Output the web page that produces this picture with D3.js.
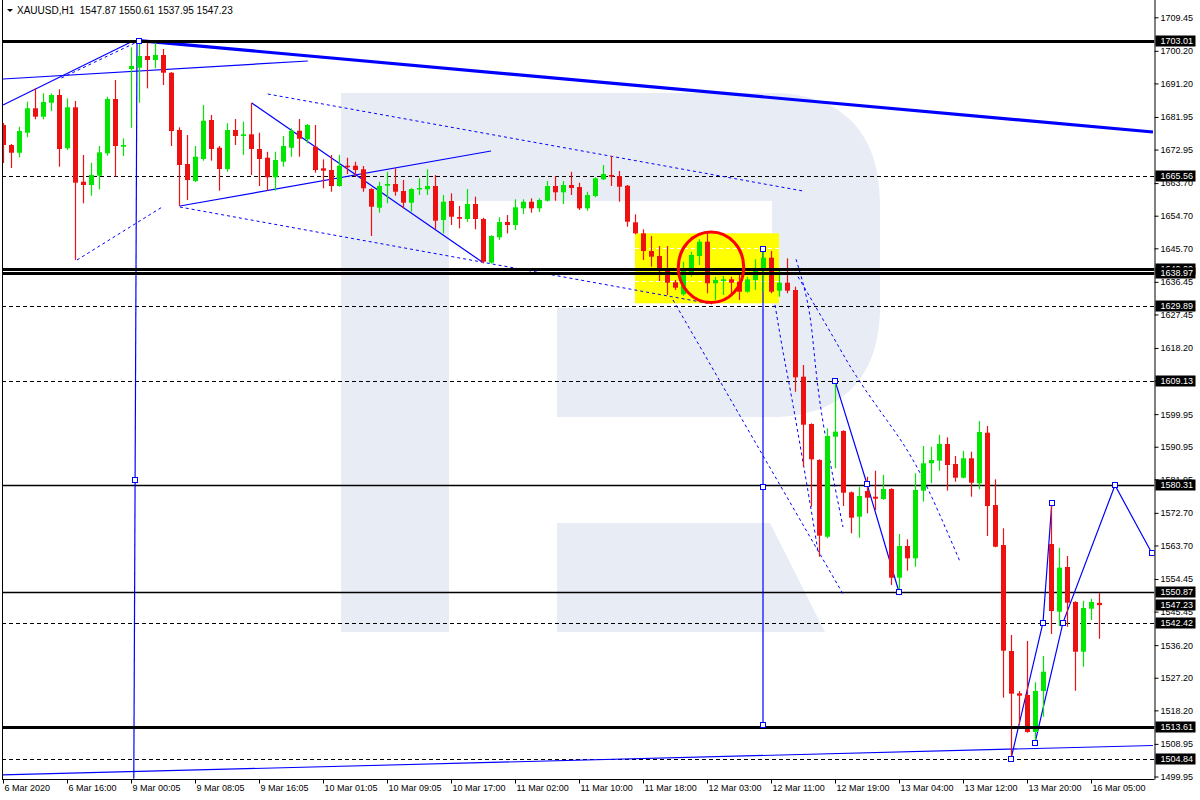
<!DOCTYPE html>
<html><head><meta charset="utf-8">
<script src="https://cdn.jsdelivr.net/npm/d3@7"></script>
<style>
body{margin:0;background:#fff}
svg{display:block}
text{font-family:"Liberation Sans",Arial,sans-serif;font-size:9px;fill:#000}
</style>
</head><body>
<svg id="chart" width="1200" height="800"></svg>
<script>
// ---------------- DATA ----------------
const headerText = "XAUUSD,H1  1547.87 1550.61 1537.95 1547.23";

const opens = [1679.73,1674.21,1672.08,1677.60,1684.34,1682.02,1685.88,1688.01,1673.30,1684.61,
1664.08,1663.17,1665.74,1671.92,1686.90,1673.74,1695.18,1695.54,1698.77,1697.66,
1699.04,1694.16,1678.35,1668.97,1664.27,1670.35,1681.11,1673.46,1667.59,1678.35,
1676.69,1677.16,1673.11,1670.70,1665.30,1669.60,1673.46,1678.15,1675.78,1673.74,
1667.78,1667.31,1662.90,1668.50,1668.50,1667.50,1662.07,1656.91,1662.98,1663.45,
1661.52,1658.29,1661.98,1661.98,1662.90,1653.51,1658.76,1654.34,1653.79,1657.93,
1653.79,1641.73,1648.74,1652.96,1652.13,1656.74,1658.56,1656.74,1658.84,1662.90,
1661.16,1663.17,1662.62,1656.74,1660.14,1664.74,1665.93,1665.65,1662.98,1652.88,
1649.84,1644.96,1643.58,1639.52,1636.32,1633.01,1638.34,1643.58,1647.53,1636.05,
1636.68,1637.15,1636.49,1633.73,1636.96,1639.72,1643.11,1634.00,1636.21,1634.20,
1610.27,1597.22,1587.29,1566.12,1593.72,1595.29,1578.37,1571.64,1578.73,1577.16,
1576.53,1579.29,1554.81,1563.56,1560.16,1578.82,1586.38,1587.10,1591.70,1586.18,
1582.40,1587.76,1580.86,1594.82,1574.87,1563.83,1534.58,1522.91,1522.44,1512.23,
1523.55,1564.11,1545.43,1557.76,1548.10,1534.39,1546.26,1547.87];

const highs = [1680.28,1674.50,1679.26,1686.16,1689.85,1688.47,1688.47,1689.58,1687.09,1686.35,
1671.45,1669.32,1673.93,1687.54,1692.14,1676.06,1701.17,1703.01,1702.71,1702.50,
1700.70,1694.30,1679.09,1676.97,1673.93,1685.25,1682.49,1673.93,1680.20,1681.38,
1680.64,1685.88,1677.60,1672.36,1672.36,1676.69,1678.82,1681.38,1680.00,1679.73,
1670.26,1671.45,1671.45,1670.70,1669.60,1668.41,1662.30,1664.08,1666.84,1667.78,
1664.55,1662.30,1665.02,1667.50,1665.93,1660.41,1660.88,1657.38,1662.07,1659.94,
1654.15,1649.30,1654.26,1654.89,1659.23,1659.23,1659.50,1659.50,1664.27,1665.65,
1664.27,1666.84,1663.81,1661.32,1665.30,1668.69,1671.17,1667.03,1663.17,1655.09,
1650.95,1649.10,1646.34,1646.34,1636.96,1642.01,1644.77,1648.19,1650.01,1637.87,
1638.06,1637.87,1638.97,1637.87,1642.67,1646.15,1644.96,1639.72,1642.94,1635.11,
1613.50,1597.40,1587.50,1596.03,1609.13,1595.50,1578.60,1579.92,1582.68,1584.33,
1583.15,1579.50,1566.87,1565.41,1583.62,1591.15,1590.96,1594.19,1593.55,1588.39,
1589.77,1589.58,1598.05,1596.67,1581.96,1568.44,1539.00,1523.55,1537.34,1525.95,
1533.20,1575.34,1563.09,1560.80,1548.30,1548.46,1549.02,1550.61];

const lows = [1669.24,1667.86,1670.81,1676.33,1681.30,1681.30,1683.59,1668.22,1672.83,1642.48,
1658.12,1660.22,1661.98,1671.26,1665.46,1671.17,1678.98,1685.88,1689.85,1695.37,
1690.77,1673.93,1657.38,1659.03,1664.00,1669.88,1669.88,1661.60,1666.84,1674.21,
1671.45,1665.93,1662.90,1661.60,1661.60,1668.22,1670.98,1670.98,1674.68,1666.57,
1662.26,1661.32,1662.70,1666.21,1665.46,1661.32,1649.10,1655.53,1658.12,1660.22,
1656.74,1655.80,1660.41,1660.41,1650.95,1649.84,1652.13,1651.22,1653.04,1650.95,
1641.56,1641.50,1647.99,1649.84,1650.75,1655.17,1655.53,1655.72,1658.60,1658.84,
1657.93,1660.41,1656.27,1656.08,1659.78,1664.55,1662.90,1658.56,1651.66,1649.57,
1642.48,1640.63,1636.68,1632.82,1634.20,1632.63,1637.87,1641.10,1633.29,1631.44,
1632.82,1633.29,1631.44,1633.45,1634.20,1633.73,1633.29,1632.35,1633.29,1606.13,
1585.44,1574.40,1560.60,1565.68,1585.00,1574.59,1567.06,1565.85,1572.58,1573.49,
1576.30,1552.80,1550.87,1556.74,1557.85,1575.78,1580.86,1584.33,1578.82,1581.30,
1582.20,1577.16,1579.20,1566.32,1563.20,1521.70,1504.84,1514.16,1512.04,1509.11,
1516.45,1539.27,1541.48,1541.29,1523.63,1530.25,1543.14,1537.95];

const closes = [1674.21,1672.08,1678.07,1684.34,1682.02,1686.07,1688.01,1673.11,1684.61,1663.81,
1663.17,1665.93,1672.19,1686.90,1673.93,1674.21,1696.01,1698.77,1697.66,1699.04,
1694.16,1678.07,1668.69,1664.55,1670.98,1680.91,1673.11,1667.59,1678.35,1676.69,
1677.16,1673.11,1670.35,1665.30,1670.07,1673.93,1678.15,1675.95,1679.73,1667.31,
1667.12,1662.90,1668.50,1668.06,1667.31,1662.26,1657.18,1662.90,1663.45,1661.32,
1658.29,1662.07,1662.34,1662.90,1653.32,1658.56,1654.42,1653.87,1657.93,1653.79,
1642.01,1649.10,1652.96,1652.13,1657.02,1658.56,1656.74,1659.03,1662.90,1661.16,
1663.17,1662.34,1656.74,1660.41,1665.02,1666.21,1665.46,1662.70,1653.04,1649.84,
1644.96,1643.39,1639.44,1636.21,1634.83,1639.52,1643.86,1647.53,1636.05,1636.96,
1637.15,1636.21,1633.73,1637.15,1639.72,1643.11,1633.73,1636.21,1634.00,1610.11,
1597.03,1587.48,1566.40,1593.91,1595.10,1578.26,1571.37,1577.35,1576.88,1576.61,
1579.29,1554.81,1563.56,1560.16,1579.01,1586.38,1587.29,1591.70,1585.91,1582.40,
1587.76,1581.02,1595.01,1574.59,1563.36,1534.67,1522.80,1522.25,1512.23,1523.55,
1528.87,1545.62,1557.57,1547.91,1534.39,1546.45,1548.10,1547.23];

const timeLabelBars = [0,8,16,24,32,40,48,56,64,72,80,88,96,104,112,120,128,136];
const timeLabels = ["6 Mar 2020","6 Mar 16:00","9 Mar 00:05","9 Mar 08:05","9 Mar 16:05",
"10 Mar 01:05","10 Mar 09:05","10 Mar 17:00","11 Mar 02:00","11 Mar 10:00","11 Mar 18:00",
"12 Mar 03:00","12 Mar 11:00","12 Mar 19:00","13 Mar 04:00","13 Mar 12:00","13 Mar 20:00","16 Mar 05:00"];

const priceTicks = [1709.45,1700.20,1691.20,1681.95,1672.95,1663.70,1654.70,1645.70,1636.45,
1627.45,1618.20,1609.20,1599.95,1590.95,1581.95,1572.70,1563.70,1554.45,1545.45,1536.20,
1527.20,1518.20,1508.95,1499.95];

const thickLevels = [1703.01,1640.00,1638.97,1513.61];
const solidLevels = [1580.31,1550.87];
const dashedLevels = [1665.56,1629.89,1609.13,1542.42,1504.84];
const priceTags = [1703.01,1665.56,1640.00,1638.97,1629.89,1609.13,1580.31,1550.87,1542.42,1547.23,1513.61,1504.84];

// drawn objects as [bar index, price]
const mainTrend = [[17,1703.01],[143.75,1677.80]];
const solidLines = [
  [[0,1692.42],[38.1,1697.39]],
  [[0,1685.25],[16,1702.63]],
  [[22.1,1657.38],[61,1672.55]],
  [[31.1,1685.80],[59.9,1641.92]],
  [[-0.4,1500.37],[143.75,1508.51]]
];
const dashedLines = [
  [[7.3,1692.7],[17.1,1703.0]],
  [[9.25,1642.48],[19.9,1657.10]],
  [[22.1,1657.10],[88.6,1630.34]],
  [[33.1,1688.28],[100,1661.52]],
  [[83.75,1631.44],[105,1550.31]]
];
const fiboArcs = [
  [[96.5,1630.06],[97.54,1616.73],[98.79,1601.99],[100.88,1575.34],[101.91,1561.54]],
  [[99.13,1642.67],[100.88,1626.83],[102.13,1603.02],[105,1568.80]],
  [[99.38,1637.87],[103.75,1621.31],[106.71,1610.27],[110.46,1598.32],[114.63,1583.70],[119.63,1559.22]]
];
const verticalA = [[16.75,1702.91],[16.35,1499.3]];
const verticalB = [[95,1645.52],[95,1514.16]];
const waveA = [[104,1609.13],[108,1580.67],[112,1550.87]];
const waveB = [[126,1504.84],[130,1542.42],[131.1,1575.34]];
const waveC = [[129,1509.20],[132.5,1542.42],[139,1580.31],[143.6,1561.62]];
const anchorPoints = [[16.5,1581.77],[17,1703.01],[95,1645.52],[95,1579.84],[95,1514.16],
  [104,1609.13],[108,1580.67],[112,1550.87],[126,1504.84],[129,1509.20],[130,1542.42],
  [131.1,1575.34],[132.5,1542.42],[139,1580.31],[143.6,1561.62]];
const zoneBars = [79,97];
const zonePrices = [1649.84,1630.53];
const zoneInnerLevels = [1645.79,1636.68];
const circleCenter = [88.5,1640.46];
const circleRadius = [4.09,9.74]; // in bars, price units

// ---------------- LAYOUT ----------------
const W=1200,H=800;
const plotL=2, plotR=1154.5, plotB=779.5;
const svg=d3.select("#chart");
const x=d3.scaleLinear().domain([0,137]).range([3,1099]);
const y=d3.scaleLinear().domain([1499.95,1709.45]).range([776.5,17.3]);
const BLUE="#0000ff", BULL="#00e600", BEAR="#ee1111";

svg.append("rect").attr("width",W).attr("height",H).attr("fill","#fff");
svg.append("defs").append("clipPath").attr("id","plot")
  .append("rect").attr("x",plotL).attr("y",0).attr("width",plotR-plotL).attr("height",plotB);
const g=svg.append("g").attr("clip-path","url(#plot)");

// watermark (RoboForex style "R")
const wm=g.append("g").attr("fill","#e8ecf4");
const wL=341,wS=449,wI=557,wC=772,wR=880,wT=93,wM=201,wN=308,wO=417,wK=523,wBt=632;
wm.append("rect").attr("x",wL).attr("y",wT).attr("width",wS-wL).attr("height",wBt-wT);
wm.append("path").attr("d",
  `M${wS},${wT} L${wC},${wT} C${wC+70},${wT} ${wR},${wT+40} ${wR},${wT+110}
   L${wR},${wO-110} C${wR},${wO-40} ${wC+70},${wO} ${wC},${wO}
   L${wI},${wO} L${wI},${wN} L${wC},${wN} L${wC},${wM} L${wS},${wM} Z`);
wm.append("path").attr("d",`M${wI},${wK} L${wC-2},${wK} L${wC+53},${wBt} L${wI},${wBt} Z`);

// yellow zone
g.append("rect").attr("x",x(zoneBars[0])).attr("y",y(zonePrices[0]))
  .attr("width",x(zoneBars[1])-x(zoneBars[0])).attr("height",y(zonePrices[1])-y(zonePrices[0]))
  .attr("fill","#ffff00");
zoneInnerLevels.forEach(p=>g.append("line").attr("x1",x(zoneBars[0])).attr("x2",x(zoneBars[1]))
  .attr("y1",Math.round(y(p))+0.5).attr("y2",Math.round(y(p))+0.5)
  .attr("stroke","#fff").attr("stroke-dasharray","4,3"));

// horizontal levels
const hl=(p,w,dash)=>g.append("line").attr("x1",plotL).attr("x2",plotR)
  .attr("y1",Math.round(y(p))+(w%2?0.5:0)).attr("y2",Math.round(y(p))+(w%2?0.5:0))
  .attr("stroke","#000").attr("stroke-width",w).attr("stroke-dasharray",dash);
dashedLevels.forEach(p=>hl(p,1,"4,3"));
solidLevels.forEach(p=>hl(p,1.3,null));

// blue objects
const line=d3.line().x(d=>x(d[0])).y(d=>y(d[1]));
const curve=d3.line().x(d=>x(d[0])).y(d=>y(d[1])).curve(d3.curveNatural);
fiboArcs.forEach(a=>g.append("path").attr("d",curve(a)).attr("fill","none")
  .attr("stroke",BLUE).attr("stroke-width",1).attr("stroke-dasharray","3,3"));
dashedLines.forEach(a=>g.append("path").attr("d",line(a)).attr("fill","none")
  .attr("stroke",BLUE).attr("stroke-width",1).attr("stroke-dasharray","3,3"));
solidLines.forEach(a=>g.append("path").attr("d",line(a)).attr("fill","none")
  .attr("stroke",BLUE).attr("stroke-width",1.2));
[verticalA,verticalB,waveA,waveB,waveC].forEach(a=>g.append("path").attr("d",line(a)).attr("fill","none")
  .attr("stroke",BLUE).attr("stroke-width",1.2));
g.append("path").attr("d",line(mainTrend)).attr("fill","none").attr("stroke",BLUE).attr("stroke-width",3.2);

// candles
const cg=g.append("g");
opens.forEach((o,i)=>{
  const c=closes[i], col=c>=o?BULL:BEAR, cx=Math.round(x(i));
  cg.append("line").attr("x1",cx+0.5).attr("x2",cx+0.5)
    .attr("y1",y(highs[i])).attr("y2",y(lows[i])).attr("stroke",col).attr("stroke-width",1.2);
  const top=y(Math.max(o,c)), bot=y(Math.min(o,c));
  cg.append("rect").attr("x",cx-2).attr("y",top).attr("width",5).attr("height",Math.max(1.5,bot-top)).attr("fill",col);
});

// thick levels over candles
thickLevels.forEach(p=>hl(p,3,null));

// red circle
g.append("ellipse").attr("cx",x(circleCenter[0])).attr("cy",y(circleCenter[1]))
  .attr("rx",x(circleCenter[0]+circleRadius[0])-x(circleCenter[0]))
  .attr("ry",y(circleCenter[1]-circleRadius[1])-y(circleCenter[1]))
  .attr("fill","none").attr("stroke","#ff0000").attr("stroke-width",3);

// anchor squares
anchorPoints.forEach(d=>g.append("rect").attr("x",Math.round(x(d[0]))-2.5).attr("y",Math.round(y(d[1]))-2.5)
  .attr("width",5).attr("height",5).attr("fill","#fff").attr("stroke",BLUE).attr("stroke-width",1));

// frame
svg.append("line").attr("x1",plotL+0.5).attr("x2",plotL+0.5).attr("y1",0).attr("y2",plotB).attr("stroke","#000");
svg.append("line").attr("x1",plotL).attr("x2",plotR).attr("y1",plotB).attr("y2",plotB).attr("stroke","#000");

// right axis
const ya=svg.append("g").attr("transform",`translate(${plotR},0)`)
  .call(d3.axisRight(y).tickValues(priceTicks).tickSize(4).tickPadding(2).tickFormat(d3.format(".2f")));
ya.select(".domain").attr("d",`M0.5,0V${plotB}`).attr("stroke","#000");
ya.selectAll("text").attr("font-size",null).attr("font-family",null).attr("fill","#000").attr("x",6);

// price tags
const tg=svg.append("g");
priceTags.forEach(p=>{
  const yy=Math.round(y(p));
  tg.append("rect").attr("x",plotR+1).attr("y",yy-5.5).attr("width",40).attr("height",11).attr("fill","#000");
  tg.append("text").attr("x",plotR+6).attr("y",yy).attr("dy","0.32em").style("fill","#fff").text(p.toFixed(2));
});

// bottom axis
const xa=svg.append("g").attr("transform",`translate(0,${plotB})`)
  .call(d3.axisBottom(x).tickValues(timeLabelBars).tickSize(4).tickFormat((d,i)=>timeLabels[i]));
xa.select(".domain").remove();
xa.selectAll("text").attr("font-size",null).attr("font-family",null).attr("fill","#000")
  .attr("text-anchor","start").attr("x",1).attr("y",5).attr("dy","0.71em");

// header
svg.append("path").attr("d","M7,9 L13,9 L10,12 Z").attr("fill","#000");
svg.append("text").attr("x",17).attr("y",14).attr("xml:space","preserve")
  .style("white-space","pre").style("font-size","10px").text(headerText);
</script>
</body></html>
